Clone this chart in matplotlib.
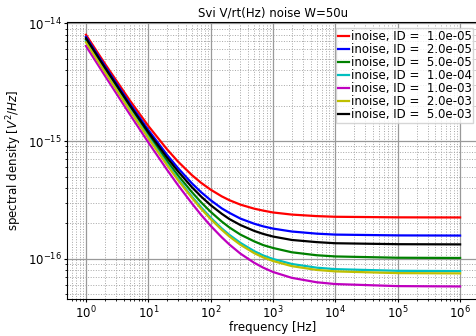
import numpy as np
import matplotlib
matplotlib.use("Agg")
import matplotlib.pyplot as plt

# frequency points [Hz]
freq = [1, 2, 5, 10, 20, 30, 50, 70, 100, 150, 200, 300, 500, 700,
        1e3, 2e3, 5e3, 1e4, 1e5, 1e6]

# noise density, in units of 1e-16 V^2/Hz
id_1e5 = [79.65, 45.49, 22.28, 13.43, 8.50, 6.69, 5.14, 4.43, 3.87, 3.40,
          3.15, 2.89, 2.67, 2.57, 2.48, 2.38, 2.31, 2.28, 2.255, 2.25]
id_2e5 = [76.58, 43.48, 20.99, 12.42, 7.63, 5.89, 4.38, 3.69, 3.15, 2.69,
          2.46, 2.20, 1.99, 1.89, 1.81, 1.71, 1.64, 1.61, 1.585, 1.58]
id_5e5 = [72.32, 40.85, 19.47, 11.32, 6.77, 5.11, 3.69, 3.03, 2.51, 2.08,
          1.85, 1.61, 1.41, 1.31, 1.24, 1.14, 1.076, 1.051, 1.0245, 1.02]
id_1e4 = [70.19, 39.56, 18.75, 10.82, 6.39, 4.77, 3.38, 2.75, 2.24, 1.82,
          1.60, 1.37, 1.165, 1.07, 1.00, 0.907, 0.844, 0.820, 0.794, 0.79]
id_1e3 = [63.99, 36.00, 16.99, 9.75, 5.70, 4.22, 2.96, 2.37, 1.91, 1.53,
          1.325, 1.11, 0.928, 0.843, 0.776, 0.692, 0.635, 0.613, 0.589, 0.585]
id_2e3 = [68.86, 38.80, 18.38, 10.60, 6.25, 4.66, 3.30, 2.67, 2.18, 1.77,
          1.55, 1.32, 1.12, 1.03, 0.961, 0.870, 0.808, 0.785, 0.759, 0.755]
id_5e3 = [74.43, 42.16, 20.25, 11.89, 7.23, 5.53, 4.06, 3.39, 2.86, 2.42,
          2.18, 1.94, 1.73, 1.63, 1.55, 1.45, 1.39, 1.36, 1.335, 1.33]

series = [
    ("1.0e-05", id_1e5, "r"),
    ("2.0e-05", id_2e5, "b"),
    ("5.0e-05", id_5e5, "g"),
    ("1.0e-04", id_1e4, "c"),
    ("1.0e-03", id_1e3, "m"),
    ("2.0e-03", id_2e3, "y"),
    ("5.0e-03", id_5e3, "k"),
]

plt.rcParams["font.size"] = 8.5

fig = plt.figure(figsize=(4.77, 3.36), dpi=100)
ax = fig.add_axes([0.141, 0.110, 0.8628, 0.824])

for label, vals, col in series:
    ax.loglog(freq, np.array(vals) * 1e-16, color=col, lw=1.6,
              label="inoise, ID =  %s" % label)

ax.grid(which="major", color="0.6", lw=0.9)
ax.grid(which="minor", color="0.65", ls=":", lw=0.7)
ax.tick_params(which="major", length=2.5, pad=1.5)
ax.tick_params(which="minor", length=1.5)

ax.set_title("Svi V/rt(Hz) noise W=50u", fontsize=8.5, pad=4)
ax.set_xlabel("frequency [Hz]")
ax.set_ylabel("spectral density [$V^2/Hz$]")
ax.xaxis.set_label_coords(0.5, -0.078)
ax.yaxis.set_label_coords(-0.105, 0.5)

ax.legend(loc="upper right", bbox_to_anchor=(473.3 / 477, 1 - 28 / 336),
          bbox_transform=fig.transFigure, borderaxespad=0, borderpad=0.15,
          labelspacing=0.0, handlelength=1.0, handletextpad=0.1,
          fancybox=False)

fig.savefig("out.png", dpi=100)
